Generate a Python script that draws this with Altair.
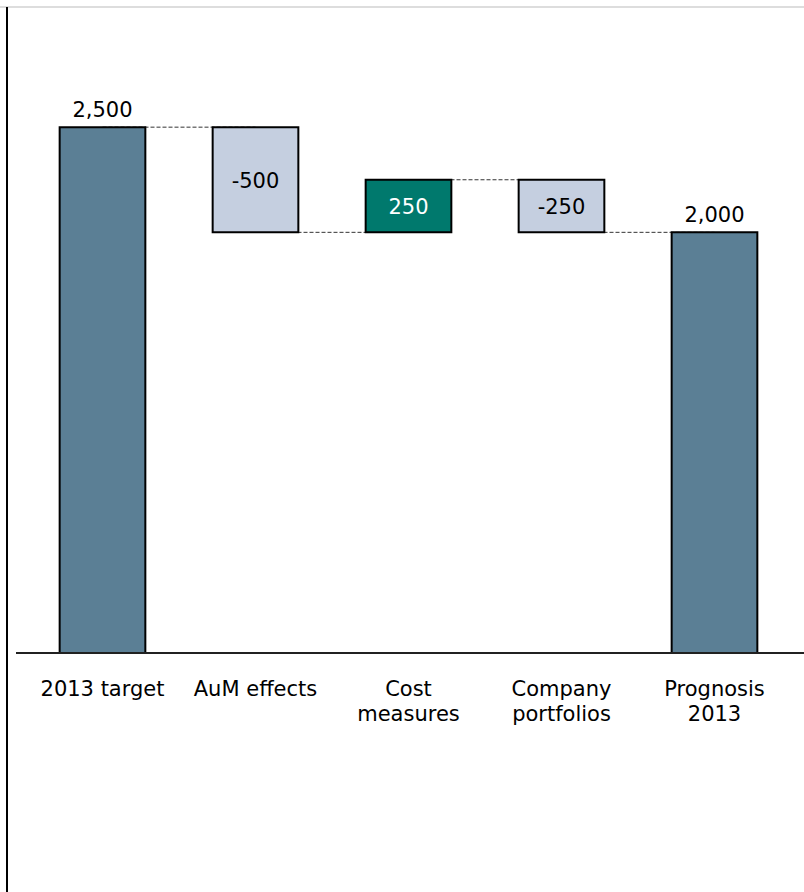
import altair as alt
import pandas as pd

# ---- data ----
categories = ["2013 target", "AuM effects", "Cost\nmeasures", "Company\nportfolios", "Prognosis\n2013"]
amounts = [2500, -500, 250, -250, 2000]
kinds = ["total", "down", "up", "down", "total"]

# ---- derived waterfall table ----
rows = []
level = 0
for cat, amt, kind in zip(categories, amounts, kinds):
    if kind == "total":
        start, end = 0, amt
    else:
        start, end = level, level + amt
    level = end
    rows.append({
        "cat": cat, "amount": amt, "kind": kind,
        "start": start, "end": end, "mid": (start + end) / 2,
        "label": f"{amt:,}",
    })
df = pd.DataFrame(rows)

conn = pd.DataFrame({
    "from": categories[:-1],
    "to": categories[1:],
    "level": df["end"].tolist()[:-1],
})

FONT = "DejaVu Sans"

xscale = alt.Scale(domain=categories, paddingInner=0.44, paddingOuter=0.22)
yscale = alt.Scale(domain=[0, 3000], nice=False, zero=True)

xenc = alt.X("cat:N", scale=xscale, sort=categories, title=None,
             axis=alt.Axis(labelExpr="split(datum.label, '\\n')", labelFont=FONT,
                           labelFontSize=21, labelColor="black", labelLineHeight=25,
                           labelPadding=25, ticks=False, domain=False, labelAngle=0,
                           labelAlign="center", labelBaseline="top",
                           labelLimit=0, labelOverlap=False))

connectors = alt.Chart(conn).mark_rule(color="#333333", strokeWidth=1, strokeDash=[4, 2]).encode(
    x=alt.X("from:N", scale=xscale, sort=categories),
    x2="to:N",
    y=alt.Y("level:Q", scale=yscale, axis=None),
)

bars = alt.Chart(df).mark_bar(stroke="black", strokeWidth=2).encode(
    x=xenc,
    y=alt.Y("start:Q", scale=yscale, axis=None),
    y2="end:Q",
    fill=alt.Fill("kind:N", scale=alt.Scale(domain=["total", "down", "up"],
                                            range=["#5b7f95", "#c5cfe0", "#00796d"]),
                  legend=None),
)

top_labels = alt.Chart(df).transform_filter("datum.kind == 'total'").mark_text(
    font=FONT, fontSize=21, baseline="alphabetic", dy=-10, color="black"
).encode(
    x=alt.X("cat:N", scale=xscale, sort=categories),
    y=alt.Y("end:Q", scale=yscale),
    text="label:N",
)

inner_labels = alt.Chart(df).transform_filter("datum.kind != 'total'").mark_text(
    font=FONT, fontSize=21, baseline="middle", dy=2
).encode(
    x=alt.X("cat:N", scale=xscale, sort=categories),
    y=alt.Y("mid:Q", scale=yscale),
    text="label:N",
    color=alt.condition("datum.kind == 'up'", alt.value("white"), alt.value("black")),
)

baseline = alt.Chart(df).mark_rule(color="#222222", strokeWidth=1.5).encode(
    x=alt.value(-10), x2=alt.value(778), y=alt.datum(0, scale=yscale),
)

frame_left = alt.Chart(df).mark_rule(color="black", strokeWidth=2).encode(
    x=alt.value(-19), y=alt.value(-15), y2=alt.value(875),
)
frame_top = alt.Chart(df).mark_rule(color="#dddddd", strokeWidth=2).encode(
    x=alt.value(-26), x2=alt.value(780), y=alt.value(-15),
)

chart = alt.layer(
    frame_top, connectors, bars, top_labels, inner_labels, baseline, frame_left
).properties(
    width=765, height=631,
    autosize=alt.AutoSizeParams(type="none"),
    padding={"left": 26, "top": 22, "right": 13, "bottom": 239},
    background="white",
).configure_view(strokeWidth=0)

chart.save("out.html", embed_options={"renderer": "svg", "actions": False})
